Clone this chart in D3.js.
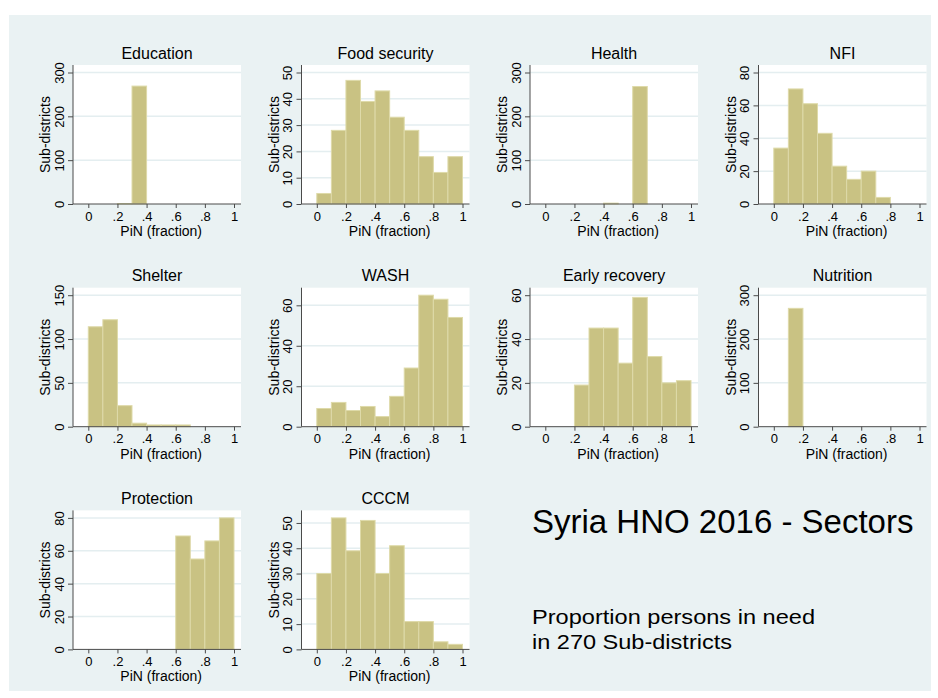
<!DOCTYPE html>
<html>
<head>
<meta charset="utf-8">
<script src="https://cdn.jsdelivr.net/npm/d3@7"></script>
<style>
  body { margin: 0; background: #ffffff; }
  svg text { font-family: Arial, "Liberation Sans", sans-serif; fill: #000; }
</style>
</head>
<body>
<div id="vis"></div>
<script>

const SECTORES = ["Education", "Food security", "Health", "NFI", "Shelter", "WASH",
  "Early recovery", "Nutrition", "Protection", "CCCM"];

// borde izquierdo de cada bin (ancho 0.1)
const BINS = [0, 0.1, 0.2, 0.3, 0.4, 0.5, 0.6, 0.7, 0.8, 0.9];

const EDUCATION = [0, 0, 1, 269, 0, 0, 0, 0, 0, 0];
const FOOD_SECURITY = [4, 28, 47, 39, 43, 33, 28, 18, 12, 18];
const HEALTH = [0, 0, 0, 0, 2, 0, 268, 0, 0, 0];
const NFI = [34, 70, 61, 43, 23, 15, 20, 4, 0, 0];
const SHELTER = [114, 122, 24, 4, 2, 2, 2, 0, 0, 0];
const WASH = [9, 12, 8, 10, 5, 15, 29, 65, 63, 54];
const EARLY_RECOVERY = [0, 0, 19, 45, 45, 29, 59, 32, 20, 21];
const NUTRITION = [0, 270, 0, 0, 0, 0, 0, 0, 0, 0];
const PROTECTION = [0, 0, 0, 0, 0, 0, 69, 55, 66, 80];
const CCCM = [30, 52, 39, 51, 30, 41, 11, 11, 3, 2];

const Y_TICKS_300 = [0, 100, 200, 300];
const Y_TICKS_50 = [0, 10, 20, 30, 40, 50];
const Y_TICKS_80 = [0, 20, 40, 60, 80];
const Y_TICKS_150 = [0, 50, 100, 150];
const Y_TICKS_60 = [0, 20, 40, 60];

const X_TICKS = [0, 0.2, 0.4, 0.6, 0.8, 1];
const X_TICK_LABELS = ["0", ".2", ".4", ".6", ".8", "1"];

const TITULO = "Syria HNO 2016 - Sectors";
const SUBTITULO = ["Proportion persons in need", "in 270 Sub-districts"];

const paneles = [
  { sector: SECTORES[0], conteos: EDUCATION, yTicks: Y_TICKS_300 },
  { sector: SECTORES[1], conteos: FOOD_SECURITY, yTicks: Y_TICKS_50 },
  { sector: SECTORES[2], conteos: HEALTH, yTicks: Y_TICKS_300 },
  { sector: SECTORES[3], conteos: NFI, yTicks: Y_TICKS_80 },
  { sector: SECTORES[4], conteos: SHELTER, yTicks: Y_TICKS_150 },
  { sector: SECTORES[5], conteos: WASH, yTicks: Y_TICKS_60 },
  { sector: SECTORES[6], conteos: EARLY_RECOVERY, yTicks: Y_TICKS_60 },
  { sector: SECTORES[7], conteos: NUTRITION, yTicks: Y_TICKS_300 },
  { sector: SECTORES[8], conteos: PROTECTION, yTicks: Y_TICKS_80 },
  { sector: SECTORES[9], conteos: CCCM, yTicks: Y_TICKS_50 }
];

const WIDTH = 938;
const HEIGHT = 698;

const COL_X0 = 73;
const COL_STEP = 228.5;
const ROW_Y0 = 65;
const ROW_STEP = 222.7;
const PLOT_W = 168;
const PLOT_H = 139;

const COLOR_FONDO = "#eaf2f3";
const COLOR_GRID = "#e4eef0";
const COLOR_BARRA = "#c9c283";
const COLOR_BORDE = "#dedaa9";
const COLOR_EJE = "#4a4a4a";

const SVG = d3.select("#vis").append("svg")
  .attr("width", WIDTH)
  .attr("height", HEIGHT);

SVG.append("rect")
  .attr("x", 9)
  .attr("y", 15)
  .attr("width", 922)
  .attr("height", 676)
  .attr("fill", COLOR_FONDO);

paneles.forEach((p, i) => crearPanel(p, i % 4, Math.floor(i / 4)));

function crearPanel(panel, col, fila) {

  const contenedor = SVG.append("g")
    .attr("transform", `translate(${COL_X0 + col * COL_STEP} ${ROW_Y0 + fila * ROW_STEP})`);

  const escalaX = d3.scaleLinear()
    .domain([0, 1])
    .range([15.3, 161]);

  const maxY = Math.max(d3.max(panel.yTicks), d3.max(panel.conteos));
  const escalaY = d3.scaleLinear()
    .domain([0, maxY])
    .range([PLOT_H, 7.5]);

  contenedor.append("rect")
    .attr("width", PLOT_W)
    .attr("height", PLOT_H)
    .attr("fill", "#ffffff");

  contenedor.append("g")
    .selectAll("line")
    .data(panel.yTicks.filter(d => d > 0))
    .join("line")
    .attr("x1", 0)
    .attr("x2", PLOT_W)
    .attr("y1", d => escalaY(d))
    .attr("y2", d => escalaY(d))
    .attr("stroke", COLOR_GRID)
    .attr("stroke-width", 1.5);

  const datos = BINS.map((b, j) => ({ x0: b, x1: b + 0.1, n: panel.conteos[j] }))
    .filter(d => d.n > 0);

  contenedor.append("g")
    .selectAll("rect")
    .data(datos)
    .join("rect")
    .attr("x", d => escalaX(d.x0))
    .attr("width", d => escalaX(d.x1) - escalaX(d.x0))
    .attr("y", d => escalaY(d.n))
    .attr("height", d => PLOT_H - escalaY(d.n))
    .attr("fill", COLOR_BARRA)
    .attr("stroke", COLOR_BORDE)
    .attr("stroke-width", 1);

  const ejeX = d3.axisBottom(escalaX)
    .tickValues(X_TICKS)
    .tickFormat((d, k) => X_TICK_LABELS[k])
    .tickSize(4);

  const ejeY = d3.axisLeft(escalaY)
    .tickValues(panel.yTicks)
    .tickFormat(d3.format("d"))
    .tickSize(5);

  const gX = contenedor.append("g")
    .attr("transform", `translate(0, ${PLOT_H})`)
    .call(ejeX);

  const gY = contenedor.append("g")
    .call(ejeY);

  [gX, gY].forEach(g => {
    g.select(".domain").remove();
    g.selectAll(".tick line").attr("stroke", COLOR_EJE);
    g.selectAll(".tick text")
      .attr("fill", "#000")
      .style("font-size", "13px")
      .attr("font-family", null);
  });

  gX.selectAll(".tick text")
    .attr("y", 16.5)
    .attr("dy", null);

  gY.selectAll(".tick text")
    .attr("x", null)
    .attr("dy", null)
    .attr("text-anchor", "middle")
    .attr("transform", "translate(-9.5,0) rotate(-90)");

  contenedor.append("line")
    .attr("x1", 0).attr("x2", 0)
    .attr("y1", 0).attr("y2", PLOT_H)
    .attr("stroke", COLOR_EJE);

  contenedor.append("line")
    .attr("x1", 0).attr("x2", PLOT_W)
    .attr("y1", PLOT_H).attr("y2", PLOT_H)
    .attr("stroke", COLOR_EJE);

  contenedor.append("text")
    .attr("x", PLOT_W / 2)
    .attr("y", -6.5)
    .attr("text-anchor", "middle")
    .style("font-size", "16px")
    .text(panel.sector);

  contenedor.append("text")
    .attr("x", escalaX(0.5))
    .attr("y", PLOT_H + 32)
    .attr("text-anchor", "middle")
    .style("font-size", "14px")
    .text("PiN (fraction)");

  contenedor.append("text")
    .attr("transform", `translate(-23, ${PLOT_H / 2}) rotate(-90)`)
    .attr("text-anchor", "middle")
    .style("font-size", "14px")
    .text("Sub-districts");
}

SVG.append("text")
  .attr("x", 532)
  .attr("y", 533)
  .style("font-size", "33px")
  .text(TITULO);

SVG.append("g")
  .selectAll("text")
  .data(SUBTITULO)
  .join("text")
  .attr("x", 532)
  .attr("y", (d, i) => 624 + i * 24.5)
  .style("font-size", "21px")
  .attr("textLength", (d, i) => i === 0 ? 283 : 200)
  .attr("lengthAdjust", "spacingAndGlyphs")
  .text(d => d);

</script>
</body>
</html>
